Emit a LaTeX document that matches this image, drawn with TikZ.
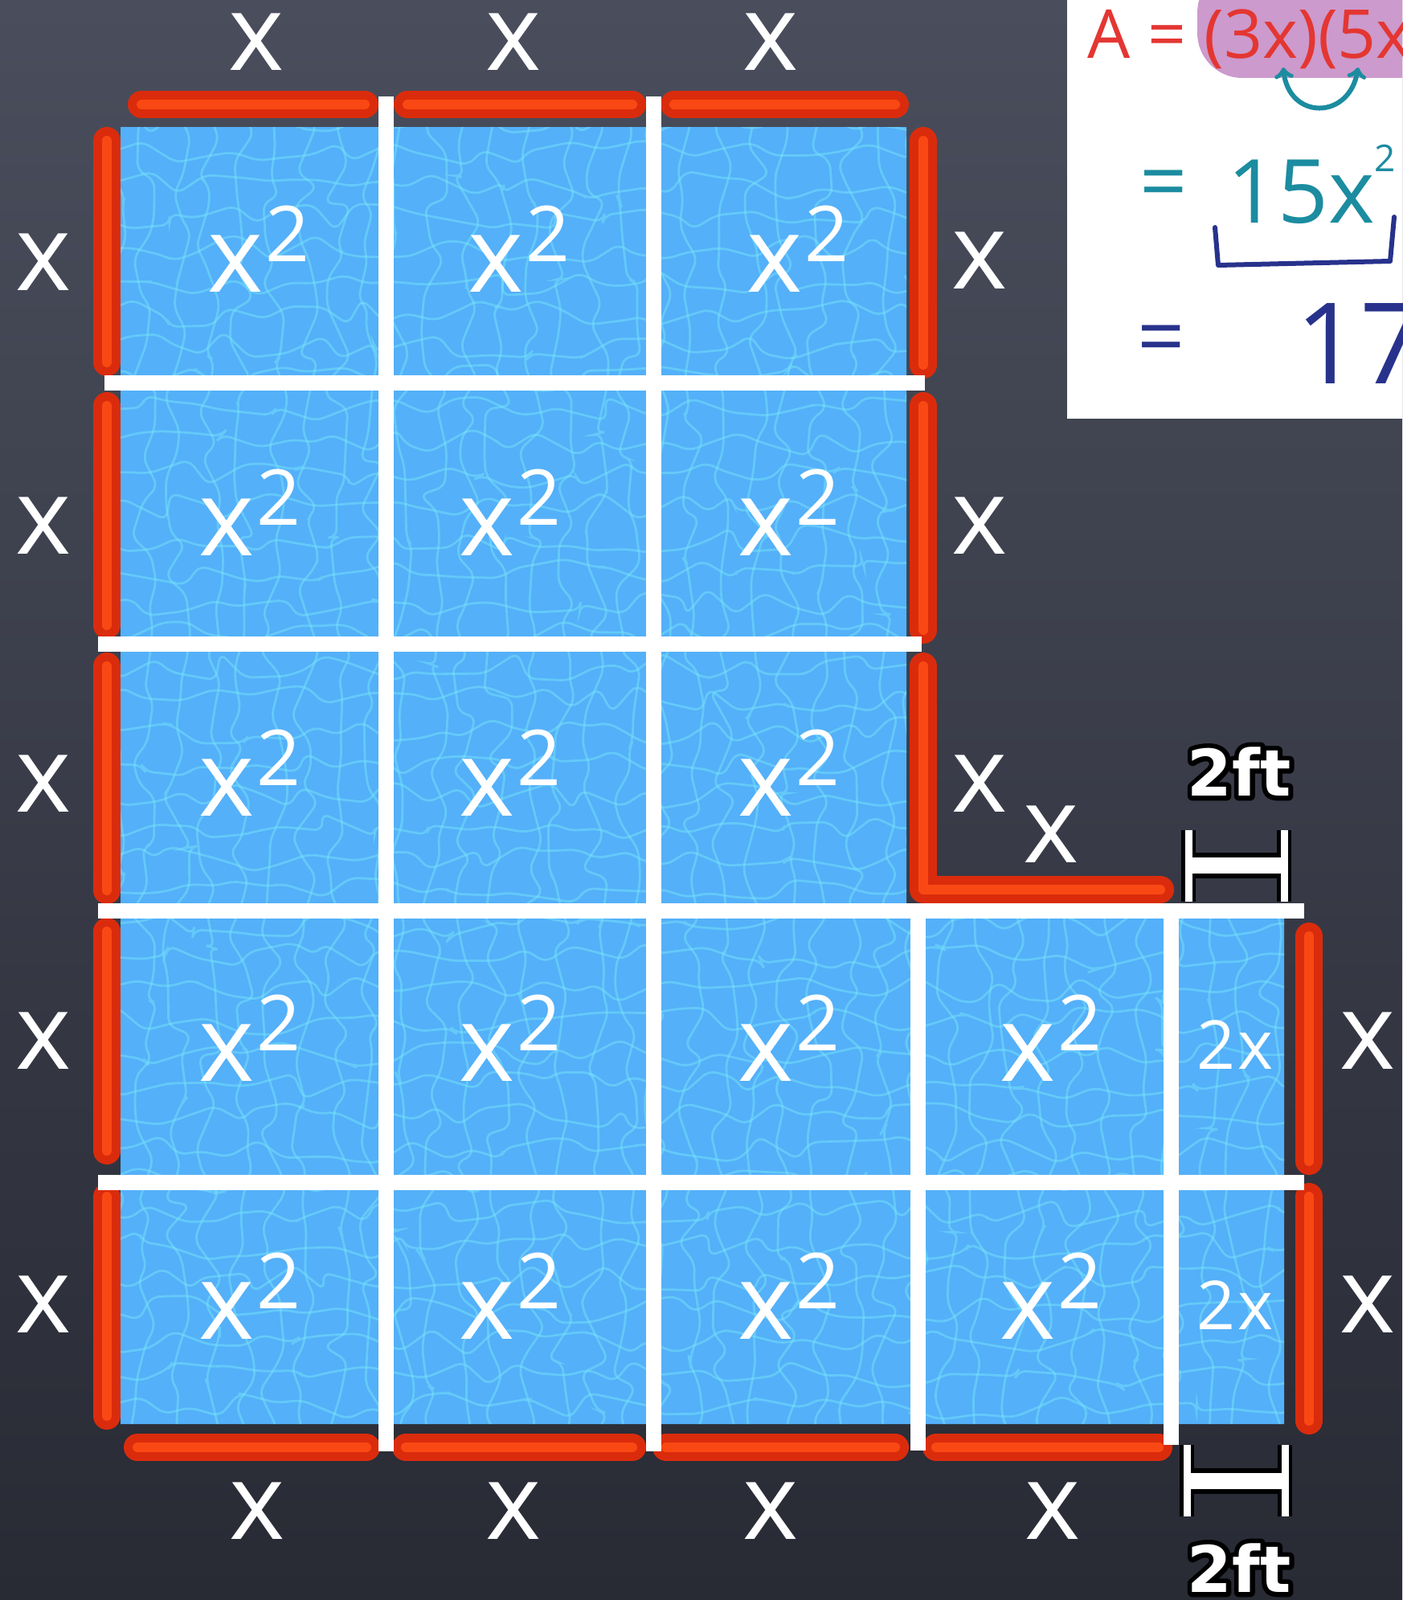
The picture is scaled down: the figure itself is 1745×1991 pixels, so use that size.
\documentclass[tikz,border=0pt]{standalone}
\usepackage{fontspec}
\setmainfont{Open Sans}
\newfontfamily\ftfont{DejaVu Sans}
\usetikzlibrary{decorations.pathmorphing}

\definecolor{bgtop}{RGB}{74,78,92}
\definecolor{bgbot}{RGB}{40,42,52}
\definecolor{water}{RGB}{84,176,248}
\definecolor{caustic}{RGB}{120,232,252}
\definecolor{noodle}{RGB}{218,44,12}
\definecolor{noodlehi}{RGB}{250,72,20}
\definecolor{inkred}{RGB}{228,54,50}
\definecolor{inkteal}{RGB}{28,140,160}
\definecolor{inkblue}{RGB}{40,50,140}
\definecolor{marker}{RGB}{204,154,204}

\newcommand{\xsq}{x\kern1pt\raisebox{19pt}{\fontsize{48}{48}\selectfont 2}}
\newcommand{\outlined}[1]{\special{pdf:literal direct 1 j 1 J 6 w 0 G 2 Tr}#1\special{pdf:literal direct 0 Tr}}

\begin{document}
\begin{tikzpicture}[x=0.5pt,y=-0.5pt,
    side/.style={text=white,font=\fontsize{66}{66}\selectfont,inner sep=0pt},
    strip/.style={text=white,font=\fontsize{42}{42}\selectfont,inner sep=0pt},
    ft/.style={text=white,font=\ftfont\bfseries\fontsize{40}{40}\selectfont,inner sep=0pt},
    ftshadow/.style={text=black,font=\ftfont\bfseries\fontsize{40}{40}\selectfont,inner sep=0pt},
    noodle/.style={draw=noodle,line width=5.5pt,double=noodlehi,double distance=6pt,
      line cap=round,line join=round},
    rope/.style={white,line width=9.5pt},
    ruler/.style={line width=#1}]

      \useasboundingbox (0,0) rectangle (1745,1991);
      \shade[top color=bgtop,bottom color=bgbot] (0,0) rectangle (1745,1991);

      % pool
      \fill[water] (150,158) -- (1128,158) -- (1128,1142) -- (1598,1142)
            -- (1598,1772) -- (150,1772) -- cycle;
      \begin{scope}
        \clip (150,158) -- (1128,158) -- (1128,1142) -- (1598,1142)
            -- (1598,1772) -- (150,1772) -- cycle;
        \foreach \r in {0,...,42}
          \draw[caustic,opacity=.45,line width=1.4pt,rounded corners=5pt,decorate,
            decoration={random steps,segment length=16pt,amplitude=9pt}]
            (130,150+\r*40) -- (1620,150+\r*40);
        \foreach \c in {0,...,37}
          \draw[caustic,opacity=.45,line width=1.4pt,rounded corners=5pt,decorate,
            decoration={random steps,segment length=16pt,amplitude=9pt}]
            (140+\c*40,140) -- (140+\c*40,1790);
      \end{scope}

      % noodles
      \draw[noodle] (176,130) -- (454,130);
      \draw[noodle] (507,130) -- (787,130);
      \draw[noodle] (839,130) -- (1114,130);

      \draw[noodle] (133,175) -- (133,451);
      \draw[noodle] (133,505) -- (133,778);
      \draw[noodle] (133,829) -- (133,1108);
      \draw[noodle] (133,1159) -- (133,1432);
      \draw[noodle] (133,1489) -- (133,1762);

      \draw[noodle] (1149,175) -- (1149,454);
      \draw[noodle] (1149,505) -- (1149,784);
      \draw[noodle] (1149,829) -- (1149,1107) -- (1444,1107);

      \draw[noodle] (1629,1165) -- (1629,1445);
      \draw[noodle] (1629,1489) -- (1629,1768);

      \draw[noodle] (171,1801) -- (456,1801);
      \draw[noodle] (505,1801) -- (787,1801);
      \draw[noodle] (829,1801) -- (1114,1801);
      \draw[noodle] (1165,1801) -- (1442,1801);

      % ropes
      \draw[rope] (480,120) -- (480,1806);
      \draw[rope] (813,120) -- (813,1806);
      \draw[rope] (1142,1142) -- (1142,1805);
      \draw[rope] (1457,1142) -- (1457,1798);
      \draw[rope] (130,476) -- (1151,476);
      \draw[rope] (122,801) -- (1147,801);
      \draw[rope] (122,1133) -- (1623,1133);
      \draw[rope] (122,1471) -- (1623,1471);

      % side lengths
      \path node (xt1) at (319,52) [side] {x};
      \path node (xt2) at (639,52) [side] {x};
      \path node (xt3) at (959,52) [side] {x};

      \path node (xl1) at (54,326) [side] {x};
      \path node (xl2) at (54,654) [side] {x};
      \path node (xl3) at (54,975) [side] {x};
      \path node (xl4) at (54,1295) [side] {x};
      \path node (xl5) at (54,1623) [side] {x};

      \path node (xr1) at (1219,324) [side] {x};
      \path node (xr2) at (1219,654) [side] {x};
      \path node (xr3) at (1219,975) [side] {x};
      \path node (xstep) at (1308,1038) [side] {x};
      \path node (xr4) at (1702,1295) [side] {x};
      \path node (xr5) at (1702,1623) [side] {x};

      \path node (xb1) at (320,1880) [side] {x};
      \path node (xb2) at (639,1880) [side] {x};
      \path node (xb3) at (959,1880) [side] {x};
      \path node (xb4) at (1310,1880) [side] {x};

      % tiles
      \path node (sq11) at (322,310) [side] {\xsq};
      \path node (sq12) at (646,310) [side] {\xsq};
      \path node (sq13) at (993,310) [side] {\xsq};
      \path node (sq21) at (311,638) [side] {\xsq};
      \path node (sq22) at (635,638) [side] {\xsq};
      \path node (sq23) at (982,638) [side] {\xsq};
      \path node (sq31) at (311,962) [side] {\xsq};
      \path node (sq32) at (635,962) [side] {\xsq};
      \path node (sq33) at (982,962) [side] {\xsq};
      \path node (sq41) at (311,1292) [side] {\xsq};
      \path node (sq42) at (635,1292) [side] {\xsq};
      \path node (sq43) at (982,1292) [side] {\xsq};
      \path node (sq44) at (1308,1292) [side] {\xsq};
      \path node (sq51) at (311,1613) [side] {\xsq};
      \path node (sq52) at (635,1613) [side] {\xsq};
      \path node (sq53) at (982,1613) [side] {\xsq};
      \path node (sq54) at (1308,1613) [side] {\xsq};

      \path node (strip4) at (1537,1300) [strip] {2\kern2pt x};
      \path node (strip5) at (1537,1624) [strip] {2\kern2pt x};

      % 2 ft rulers
      \coordinate (rtl) at (1479,1033);
      \coordinate (rtr) at (1598,1033);
      \coordinate (rbl) at (1477,1887);
      \coordinate (rbr) at (1599,1887);
      \draw[black,ruler=9pt] (rtl) -- ++(0,89) (rtr) -- ++(0,89)
            (rbl) -- ++(0,-89) (rbr) -- ++(0,-89);
      \draw[black,ruler=16pt] (1479,1077) -- (1598,1077) (1477,1843) -- (1599,1843);
      \draw[white,ruler=4.5pt] (rtl) -- ++(0,89) (rtr) -- ++(0,89)
            (rbl) -- ++(0,-89) (rbr) -- ++(0,-89);
      \draw[white,ruler=10pt] (1481,1077) -- (1596,1077) (1479,1843) -- (1597,1843);

      \path node (fttopbk) at (1542,960) [ftshadow] {\outlined{2ft}};
      \path node (fttop) at (1542,960) [ft] {2ft};
      \path node (ftbotbk) at (1542,1951) [ftshadow] {\outlined{2ft}};
      \path node (ftbot) at (1542,1951) [ft] {2ft};

      % working
      \begin{scope}
        \clip (1328,0) rectangle (1745,521);
        \fill[white] (1328,0) rectangle (1745,521);
        \fill[marker,rounded corners=28pt] (1490,-40) rectangle (1800,97);

        \path node (area) at (1353,73) [anchor=base west,inner sep=0pt,text=inkred,
              font=\fontsize{42}{42}\selectfont] {A = (3x)(5x};
        \coordinate (swapa) at (1597,84);
        \coordinate (swapb) at (1690,84);
        \draw[inkteal,line width=3pt,<->] (swapa) .. controls (1603,150) and (1680,150) .. (swapb);

        \path node (eqa) at (1448,237) [inner sep=0pt,text=inkteal,
              font=\fontsize{52}{52}\selectfont] {=};
        \path node (prod) at (1527,277) [anchor=base west,inner sep=0pt,text=inkteal,
              font=\fontsize{55}{55}\selectfont]
              {15x\raisebox{32pt}{\fontsize{23}{23}\selectfont 2}};
        \draw[inkblue,line width=3pt,line cap=round,line join=round]
              (1512,283) -- (1516,330) -- (1730,325) -- (1735,270);

        \path node (eqb) at (1445,430) [inner sep=0pt,text=inkblue,
              font=\fontsize{52}{52}\selectfont] {=};
        \path node (total) at (1612,477) [anchor=base west,inner sep=0pt,text=inkblue,
              font=\fontsize{70}{70}\selectfont] {17};
      \end{scope}
    \end{tikzpicture}
\end{document}
